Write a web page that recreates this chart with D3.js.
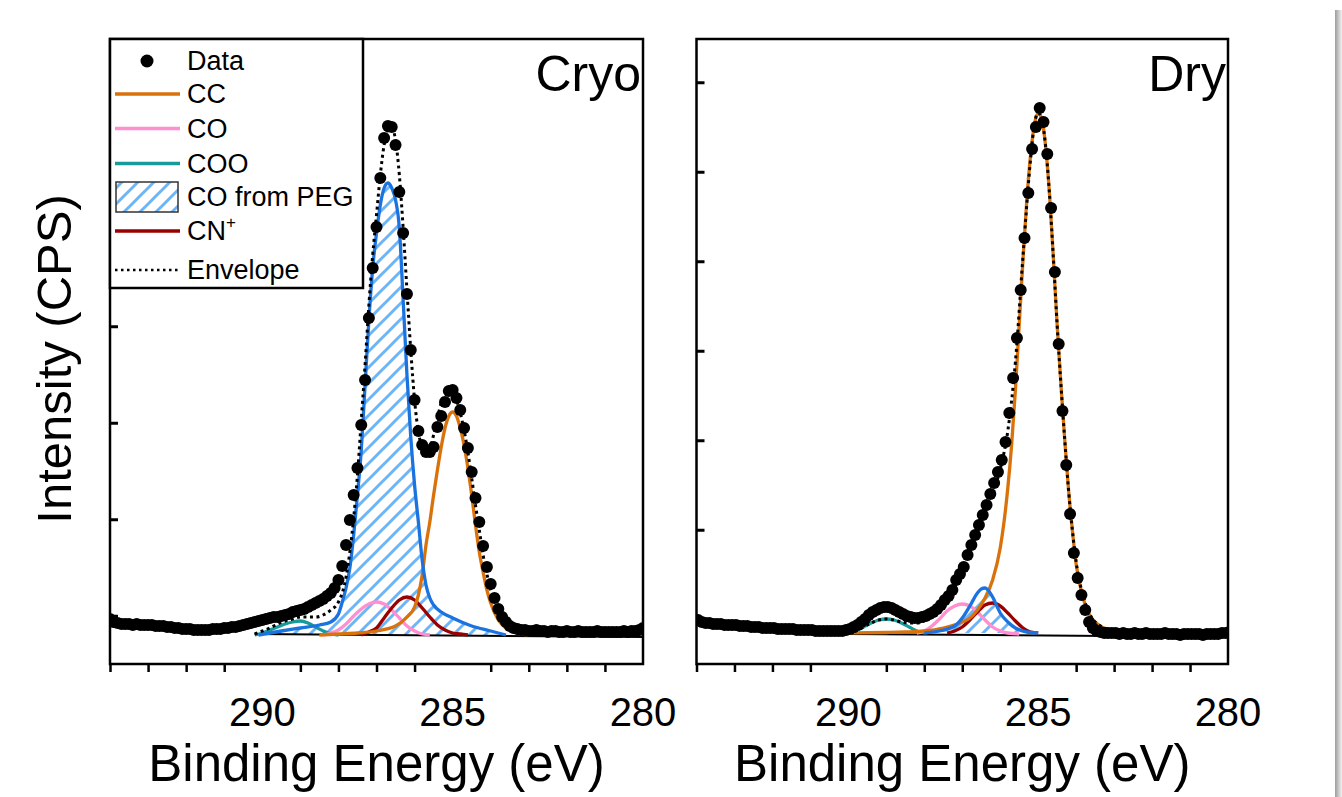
<!DOCTYPE html>
<html>
<head>
<meta charset="utf-8">
<script src="https://cdn.jsdelivr.net/npm/d3@7"></script>
<style>
  body { margin: 0; background: #fff; }
  svg { display: block; }
  text { font-family: "Liberation Sans", Arial, sans-serif; }
</style>
</head>
<body>
<div id="chart"></div>
<script>
// C 1s scans: counts on a fixed binding-energy grid (start, step in eV)
var cryoStart = 294.0, dryStart = 293.96, beStep = 0.1;

var cryoData = [450,420,410,400,400,400,390,400,390,390,390,
  390,380,380,380,370,370,360,360,350,350,
  350,340,340,340,340,340,350,350,350,360,
  360,370,370,380,390,400,410,420,430,440,
  450,460,470,470,480,490,500,520,530,540,
  550,570,590,610,630,650,680,710,760,840,
  980,1190,1440,1690,1960,2390,2840,3460,3960,4370,
  4860,5260,5380,5370,5190,4720,4310,3700,3140,2640,
  2330,2190,2120,2120,2170,2370,2480,2620,2730,2740,
  2660,2540,2360,2160,1920,1660,1420,1180,970,800,
  660,550,470,420,380,360,350,340,340,330,
  330,340,330,330,320,330,330,320,320,330,
  320,320,330,320,320,320,320,330,320,320,
  320,320,320,320,330,320,330,330,340,360];

var dryData = [440,420,410,410,400,400,400,390,390,390,390,
  380,380,380,370,370,370,360,360,360,360,
  350,350,350,350,350,340,340,340,340,340,
  330,330,330,330,330,330,330,330,340,350,
  370,390,420,450,490,520,540,560,570,570,
  560,540,520,500,480,470,460,460,470,480,
  500,520,550,590,640,680,740,840,900,970,
  1090,1190,1290,1390,1490,1590,1700,1810,1920,2040,
  2220,2510,2860,3260,3740,4260,4710,5150,5370,5560,
  5420,5100,4560,3920,3200,2530,1990,1500,1110,860,
  690,540,420,360,330,320,310,310,310,310,
  300,310,300,300,310,300,300,310,300,300,
  300,300,310,300,300,300,290,300,300,300,
  300,300,290,300,300,300,300,310,310,320];

// fitted components, [binding energy, counts]
var cryoCOO = [[290.2,290],[290.0,310],[289.8,340],[289.6,370],[289.4,400],[289.2,420],[289.0,430],[288.8,410],[288.6,370],[288.4,330],[288.2,300],[288.0,290]];
var cryoCO = [[288.4,290],[288.2,310],[288.0,340],[287.8,400],[287.6,480],[287.4,550],[287.2,600],[287.0,620],[286.8,600],[286.6,540],[286.4,460],[286.2,380],[286.0,330],[285.8,300],[285.6,290]];
var cryoCN = [[287.4,290],[287.2,320],[287.0,360],[286.8,460],[286.6,560],[286.4,640],[286.2,670],[286.0,640],[285.8,560],[285.6,470],[285.4,390],[285.2,340],[285.0,310],[284.8,300],[284.6,290]];
var cryoPEG = [[290.1,290],[289.5,330],[289.0,360],[288.5,390],[288.2,420],[288.0,500],[287.9,620],[287.8,760],[287.7,960],[287.6,1290],[287.5,1690],[287.4,2140],[287.3,2790],[287.2,3440],[287.1,3960],[287.0,4310],[286.9,4590],[286.8,4760],[286.7,4810],[286.6,4760],[286.5,4640],[286.4,4360],[286.3,3640],[286.2,2890],[286.1,2270],[286.0,1790],[285.9,1420],[285.8,1040],[285.7,790],[285.6,660],[285.5,590],[285.3,520],[285.0,460],[284.5,380],[284.0,330],[283.6,290]];
var cryoCC = [[288.5,290],[288.0,300],[287.5,310],[287.0,330],[286.5,380],[286.2,470],[286.0,570],[285.9,690],[285.8,890],[285.7,1190],[285.6,1420],[285.5,1690],[285.4,1940],[285.3,2170],[285.2,2360],[285.1,2480],[285.0,2520],[284.9,2480],[284.8,2360],[284.7,2190],[284.6,1960],[284.5,1690],[284.4,1390],[284.3,1120],[284.2,920],[284.1,740],[284.0,610],[283.8,440],[283.6,360],[283.4,320],[283.0,290]];
var cryoEnvelope = [[290.2,300],[290.0,330],[289.8,360],[289.6,400],[289.4,430],[289.2,450],[289.0,470],[288.8,470],[288.6,470],[288.4,490],[288.2,540],[288.0,620],[287.8,870],[287.6,1460],[287.5,1890],[287.4,2440],[287.3,2990],[287.2,3590],[287.1,4090],[287.0,4490],[286.9,4890],[286.8,5190],[286.7,5340],[286.6,5360],[286.5,5240],[286.4,4890],[286.3,4360],[286.2,3740],[286.1,3140],[286.0,2640],[285.9,2320],[285.8,2170],[285.7,2120],[285.6,2160],[285.5,2290],[285.4,2460],[285.3,2610],[285.2,2700],[285.1,2730],[285.0,2710],[284.9,2640],[284.8,2510],[284.7,2340],[284.6,2120],[284.5,1860],[284.4,1590],[284.3,1340],[284.2,1090],[284.1,900],[284.0,740],[283.8,520],[283.6,400],[283.4,340],[283.2,310],[283.0,300]];
var cryoBackground = [[290.2,300],[280.0,270]];

var dryCOO = [[290.0,310],[289.8,330],[289.6,370],[289.4,410],[289.2,440],[289.0,450],[288.8,440],[288.6,410],[288.4,370],[288.2,330],[288.0,310]];
var dryCO = [[288.2,310],[288.0,330],[287.8,380],[287.6,450],[287.4,530],[287.2,580],[287.0,600],[286.8,580],[286.6,520],[286.4,440],[286.2,370],[286.0,330],[285.8,310],[285.5,300]];
var dryCN = [[287.4,310],[287.2,330],[287.0,370],[286.8,440],[286.6,520],[286.4,590],[286.2,610],[286.0,580],[285.8,510],[285.6,430],[285.4,360],[285.2,320],[285.0,310]];
var dryPEG = [[288.0,310],[287.6,330],[287.2,380],[287.0,460],[286.8,580],[286.6,710],[286.5,750],[286.4,760],[286.3,730],[286.2,670],[286.0,510],[285.8,420],[285.6,360],[285.3,320],[285.0,310]];
var dryCC = [[290.0,310],[289.0,315],[288.5,320],[288.0,330],[287.5,360],[287.0,420],[286.8,460],[286.6,540],[286.4,660],[286.2,840],[286.0,1160],[285.9,1420],[285.8,1760],[285.7,2190],[285.6,2740],[285.5,3390],[285.4,4040],[285.3,4640],[285.2,5090],[285.1,5390],[285.0,5510],[284.9,5440],[284.8,5160],[284.7,4690],[284.6,4060],[284.5,3390],[284.4,2790],[284.3,2240],[284.2,1740],[284.1,1340],[284.0,1000],[283.9,790],[283.8,640],[283.7,530],[283.6,460],[283.4,390],[283.2,350],[283.0,330],[282.5,310],[282.0,305],[281.0,300],[280.0,300]];
var dryEnvelope = [[290.0,310],[289.8,330],[289.6,370],[289.4,410],[289.2,440],[289.0,450],[288.8,440],[288.6,420],[288.4,410],[288.2,410],[288.0,430],[287.8,480],[287.6,560],[287.4,660],[287.2,790],[287.0,960],[286.8,1150],[286.6,1350],[286.4,1520],[286.2,1700],[286.0,1950],[285.8,2330],[285.6,3020],[285.4,4080],[285.2,5050],[285.1,5400],[285.0,5510],[284.9,5440],[284.8,5160],[284.7,4690],[284.6,4060],[284.5,3390],[284.4,2790],[284.3,2240],[284.2,1740],[284.1,1340],[284.0,1020],[283.8,660],[283.6,470],[283.4,390],[283.2,350],[283.0,330],[282.5,310],[282.0,305]];
var dryBackground = [[290.0,300],[280.0,270]];

var xMajor = [290, 285, 280];
var xMinor = [294, 293, 292, 291, 289, 288, 287, 286, 284, 283, 282, 281];

var colors = {CC: "#d9720b", CO: "#ff8fd0", COO: "#169a9a", PEG: "#1b73e0", hatch: "#6db5f7", CN: "#990000"};

var width = 1342, height = 797,
    plotTop = 39, plotBottom = 664, yMax = 6250;

var svg = d3.select("#chart").append("svg")
    .attr("width", width)
    .attr("height", height);
var defs = svg.append("defs");

// soft shadow down the right edge of the figure
var grad = defs.append("linearGradient").attr("id", "shade")
    .attr("x1", 0).attr("x2", 1).attr("y1", 0).attr("y2", 0);
grad.append("stop").attr("offset", 0).attr("stop-color", "#9c9c9c");
grad.append("stop").attr("offset", 1).attr("stop-color", "#f2f2f2");
svg.append("rect").attr("x", 1335).attr("y", 10).attr("width", 7).attr("height", 787)
    .attr("fill", "url(#shade)");

var hatch = defs.append("pattern").attr("id", "hatch")
    .attr("patternUnits", "userSpaceOnUse")
    .attr("width", 16).attr("height", 16);
hatch.append("path")
    .attr("d", "M-4,4 L4,-4 M0,16 L16,0 M12,20 L20,12")
    .attr("stroke", colors.hatch)
    .attr("stroke-width", 3);

var panels = [
  {title: "Cryo", start: cryoStart, data: cryoData, COO: cryoCOO, CO: cryoCO, CN: cryoCN,
   PEG: cryoPEG, CC: cryoCC, env: cryoEnvelope, bg: cryoBackground, pegBase: 290,
   step: 965, x0: 110, x1: 643},
  {title: "Dry", start: dryStart, data: dryData, COO: dryCOO, CO: dryCO, CN: dryCN,
   PEG: dryPEG, CC: dryCC, env: dryEnvelope, bg: dryBackground, pegBase: 310,
   step: 895, x0: 696.5, x1: 1228}
];

panels.forEach(function(p, k) {
  var x = d3.scaleLinear().domain([294, 280]).range([p.x0, p.x1]);
  var y = d3.scaleLinear().domain([0, yMax]).range([plotBottom, plotTop]);

  defs.append("clipPath").attr("id", "clip" + k)
    .append("rect")
      .attr("x", p.x0).attr("y", plotTop)
      .attr("width", p.x1 - p.x0).attr("height", plotBottom - plotTop);

  var g = svg.append("g").attr("clip-path", "url(#clip" + k + ")");

  var line = d3.line()
      .x(function(d) { return x(d[0]); })
      .y(function(d) { return y(d[1]); })
      .curve(d3.curveMonotoneX);

  g.append("path")
      .datum(p.PEG)
      .attr("fill", "url(#hatch)")
      .attr("d", d3.area()
        .x(function(d) { return x(d[0]); })
        .y0(y(p.pegBase))
        .y1(function(d) { return y(d[1]); })
        .curve(d3.curveMonotoneX));

  g.append("path").datum(p.bg)
      .attr("fill", "none").attr("stroke", "#000").attr("stroke-width", 2)
      .attr("d", line);

  ["COO", "CO", "CN", "CC", "PEG"].forEach(function(key) {
    g.append("path").datum(p[key])
        .attr("fill", "none")
        .attr("stroke", colors[key])
        .attr("stroke-width", 3.3)
        .attr("d", line);
  });

  g.append("path").datum(p.env)
      .attr("fill", "none").attr("stroke", "#000")
      .attr("stroke-width", 3)
      .attr("stroke-dasharray", "3,3.5")
      .attr("d", line);

  g.append("g")
    .selectAll("circle")
    .data(p.data)
    .enter()
    .append("circle")
      .attr("cx", function(d, i) { return x(p.start - i * beStep); })
      .attr("cy", function(d) { return y(d); })
      .attr("r", 6)
      .attr("fill", "#000");

  // axes
  var xa = svg.append("g").attr("transform", "translate(0," + plotBottom + ")");
  xa.call(d3.axisBottom(x).tickValues(xMajor).tickSize(16).tickFormat(""));
  xa.call(d3.axisBottom(x).tickValues(xMinor).tickSize(8).tickFormat(""));
  xa.selectAll(".domain").remove();
  xa.selectAll("line").attr("stroke-width", 2.5);

  svg.append("g")
    .selectAll("text")
    .data(xMajor)
    .enter()
    .append("text")
      .attr("x", function(d) { return x(d); })
      .attr("y", 726)
      .attr("text-anchor", "middle")
      .attr("font-size", 40)
      .attr("fill", "#000")
      .text(function(d) { return d; });

  var ya = svg.append("g").attr("transform", "translate(" + p.x0 + ",0)");
  ya.call(d3.axisRight(y).tickValues(d3.range(p.step, yMax, p.step)).tickSize(17).tickFormat(""));
  ya.call(d3.axisRight(y).tickValues(d3.range(p.step / 2, yMax, p.step)).tickSize(8).tickFormat(""));
  ya.selectAll(".domain").remove();
  ya.selectAll("line").attr("stroke-width", 3);

  svg.append("rect")
      .attr("x", p.x0).attr("y", plotTop)
      .attr("width", p.x1 - p.x0).attr("height", plotBottom - plotTop)
      .attr("fill", "none").attr("stroke", "#000").attr("stroke-width", 2.5);

  svg.append("text")
      .text(p.title)
      .attr("x", p.x1 - 2).attr("y", 91)
      .attr("text-anchor", "end")
      .attr("font-size", 50);

  svg.append("text")
      .text("Binding Energy (eV)")
      .attr("x", (p.x0 + p.x1) / 2).attr("y", 781)
      .attr("text-anchor", "middle")
      .attr("font-size", 51);
});

svg.append("text")
    .text("Intensity (CPS)")
    .attr("transform", "translate(71,359) rotate(-90)")
    .attr("text-anchor", "middle")
    .attr("font-size", 49);

// legend, inside the Cryo panel
var legendItems = [
  {label: "Data", kind: "dot", y: 61},
  {label: "CC", kind: "line", color: colors.CC, y: 94},
  {label: "CO", kind: "line", color: colors.CO, y: 128.5},
  {label: "COO", kind: "line", color: colors.COO, y: 163.5},
  {label: "CO from PEG", kind: "hatch", y: 197},
  {label: "CN", sup: "+", kind: "line", color: colors.CN, y: 231},
  {label: "Envelope", kind: "dotted", y: 270}
];

var legend = svg.append("g");
legend.append("rect")
    .attr("x", 110).attr("y", plotTop).attr("width", 253).attr("height", 249)
    .attr("fill", "#fff").attr("stroke", "#000").attr("stroke-width", 2.5);

legendItems.forEach(function(it) {
  if (it.kind == "dot") {
    legend.append("circle").attr("cx", 147).attr("cy", it.y).attr("r", 6.5).attr("fill", "#000");
  } else if (it.kind == "line") {
    legend.append("line").attr("x1", 115).attr("x2", 180).attr("y1", it.y).attr("y2", it.y)
        .attr("stroke", it.color).attr("stroke-width", 3.5);
  } else if (it.kind == "hatch") {
    legend.append("rect").attr("x", 116).attr("y", it.y - 15).attr("width", 62).attr("height", 30)
        .attr("fill", "url(#hatch)").attr("stroke", "#333").attr("stroke-width", 1.5);
  } else {
    legend.append("line").attr("x1", 115).attr("x2", 180).attr("y1", it.y).attr("y2", it.y)
        .attr("stroke", "#000").attr("stroke-width", 2.5).attr("stroke-dasharray", "2.5,3.5");
  }
  var t = legend.append("text")
      .attr("x", 187).attr("y", it.y)
      .attr("dominant-baseline", "central")
      .attr("font-size", 27)
      .text(it.label);
  if (it.sup) {
    t.append("tspan").attr("dy", -9).attr("font-size", 17).text(it.sup);
  }
});
</script>
</body>
</html>
